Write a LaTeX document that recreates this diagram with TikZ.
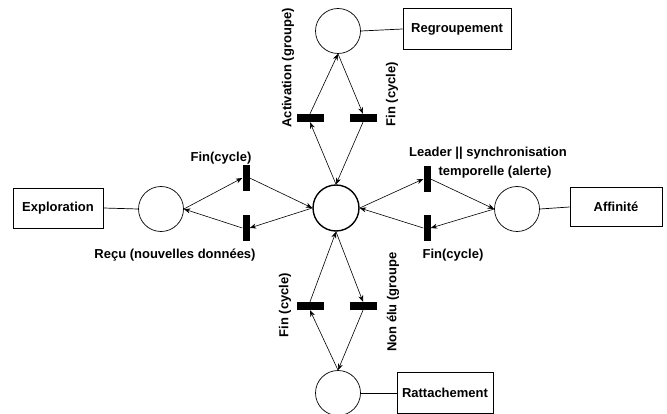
\documentclass[tikz,border=0pt]{standalone}
\usepackage{fontspec}
\setmainfont{Liberation Sans}
\usetikzlibrary{arrows.meta}
\begin{document}
\begin{tikzpicture}[x=1pt,y=-1pt,
  place/.style={circle,draw,line width=0.7pt,minimum size=45pt,inner sep=0pt},
  mainplace/.style={place,line width=1.4pt,minimum size=46pt},
  labelbox/.style={draw,line width=0.8pt,inner sep=0pt,font=\fontsize{13}{15}\selectfont\bfseries},
  hbar/.style={fill=black,draw=none,minimum width=27pt,minimum height=8pt,inner sep=0pt},
  vbar/.style={fill=black,draw=none,minimum width=7pt,minimum height=26pt,inner sep=0pt},
  lbl/.style={font=\fontsize{13}{15}\selectfont\bfseries,inner sep=0pt},
  arc/.style={-{Stealth[length=6.5pt,width=5pt]},line width=0.6pt},
  link/.style={line width=0.7pt}]
\useasboundingbox (0,0) rectangle (667,414);

% places
\node[mainplace] (c) at (336,208) {};
\node[place] (tc) at (338,31) {};
\node[place] (bc) at (338,393) {};
\node[place] (lc) at (161,209) {};
\node[place] (rc) at (517,209) {};

% boxes
\node[labelbox,minimum width=108pt,minimum height=41pt] (rg) at (457,29) {Regroupement};
\node[labelbox,minimum width=90pt,minimum height=40pt] (ex) at (58,208) {Exploration};
\node[labelbox,minimum width=92pt,minimum height=39pt] (af) at (616,207) {Affinité};
\node[labelbox,minimum width=96pt,minimum height=41pt] (ra) at (445,393) {Rattachement};

\draw[link] (tc.east) -- (rg.west);
\draw[link] (lc.west) -- (ex.east);
\draw[link] (rc.east) -- (af.west);
\draw[link] (bc.east) -- (ra.west);

% transitions
\node[hbar] (tl) at (310,118) {};
\node[hbar] (tr) at (363,118) {};
\node[hbar] (bl) at (310,306) {};
\node[hbar] (br) at (363,306) {};
\node[vbar] (lu) at (246,178) {};
\node[vbar] (ld) at (246,228) {};
\node[vbar] (ru) at (427,179) {};
\node[vbar] (rd) at (427,228) {};

% top
\draw[arc] (c.north) -- (tl.south);
\draw[arc] (tl.north) -- (tc.south);
\draw[arc] (tc.south) -- (tr.north);
\draw[arc] (tr.south) -- (c.north);
% bottom
\draw[arc] (bc.north) -- (bl.south);
\draw[arc] (bl.north) -- (c.south);
\draw[arc] (c.south) -- (br.north);
\draw[arc] (br.south) -- (bc.north);
% left
\draw[arc] (lc.east) -- (lu.west);
\draw[arc] (lu.east) -- (c.west);
\draw[arc] (c.west) -- (ld.east);
\draw[arc] (ld.west) -- (lc.east);
% right
\draw[arc] (c.east) -- (ru.west);
\draw[arc] (ru.east) -- (rc.west);
\draw[arc] (rc.west) -- (rd.east);
\draw[arc] (rd.west) -- (c.east);

% labels
\node[lbl,rotate=90] (l1) at (288,68) {Activation (groupe)};
\node[lbl,rotate=90] (l2) at (392,94) {Fin (cycle)};
\node[lbl,rotate=90] (l3) at (285,305) {Fin (cycle)};
\node[lbl,rotate=90] (l4) at (393,302) {Non élu (groupe};
\node[lbl] (l5) at (221,158) {Fin(cycle)};
\node[lbl] (l6) at (175,255) {Reçu (nouvelles données)};
\node[lbl] (l7) at (488,153) {Leader || synchronisation};
\node[lbl] (l8) at (495,172) {temporelle (alerte)};
\node[lbl] (l9) at (453,255) {Fin(cycle)};
\end{tikzpicture}
\end{document}
